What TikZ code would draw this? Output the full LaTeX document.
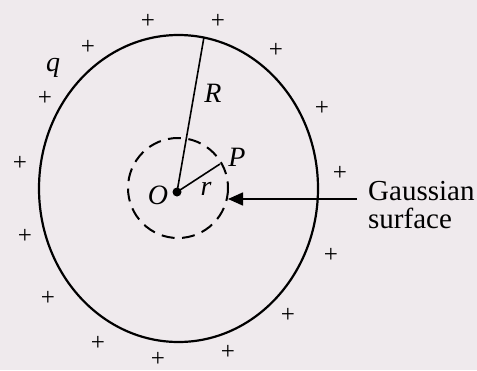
\documentclass[tikz,border=0pt]{standalone}
\usepackage{fontspec}
\setmainfont{Liberation Serif}
\usepackage{xcolor}
\usetikzlibrary{arrows.meta}
\definecolor{paper}{HTML}{EFEAED}

\begin{document}
\begin{tikzpicture}[
    x=1pt,
    y=-1pt,
    >={Triangle[length=15pt,width=13pt]},
    charge/.style={inner sep=0pt, font=\fontsize{25}{25}\selectfont},
    sym/.style={inner sep=0pt, font=\fontsize{28}{28}\selectfont\itshape},
    gauss/.style={line width=2pt, dash pattern=on 13pt off 7.5pt}
]

% Page
\fill[paper] (0,0) rectangle (477,370);
\useasboundingbox (0,0) rectangle (477,370);

% Charged sphere
\draw[line width=2.2pt]
    (178.5,188.5) ellipse [x radius=139.5, y radius=153.5];

% Gaussian surface
\draw[gauss] (178,188) circle [radius=50];

% Centre and radii
\coordinate (O) at (177,192);
\coordinate (top) at (204,37);
\coordinate (P) at (220,164);
\coordinate (tip) at (228,199);
\fill (O) circle [radius=4.5];
\draw[line width=1.6pt] (O) -- (top);
\draw[line width=1.6pt] (O) -- (P);

\node[sym] (lq) at (53,68) {q};
\node[sym] (lR) at (213,93) {R};
\node[sym] (lO) at (158,195) {O};
\node[sym] (lP) at (237,157) {P};
\node[sym] (lr) at (206,189) {r};

% Label and arrow
\node[anchor=west, align=left, inner sep=0pt,
      font=\fontsize{29}{28}\selectfont]
    (gs) at (368,205) {Gaussian\\surface};
\draw[->, line width=1.6pt]
    ([xshift=-11pt]gs.west |- tip) -- (tip);

% Charges on the surface
\foreach \px/\py [count=\i] in {148/21, 218/21, 88/47, 45/98, 20/163,
    276/50, 322/108, 340/173, 25/236, 48/298, 98/343, 158/359,
    228/352, 331/255, 288/315}
    \node[charge] (c\i) at (\px,\py) {+};

\end{tikzpicture}
\end{document}
